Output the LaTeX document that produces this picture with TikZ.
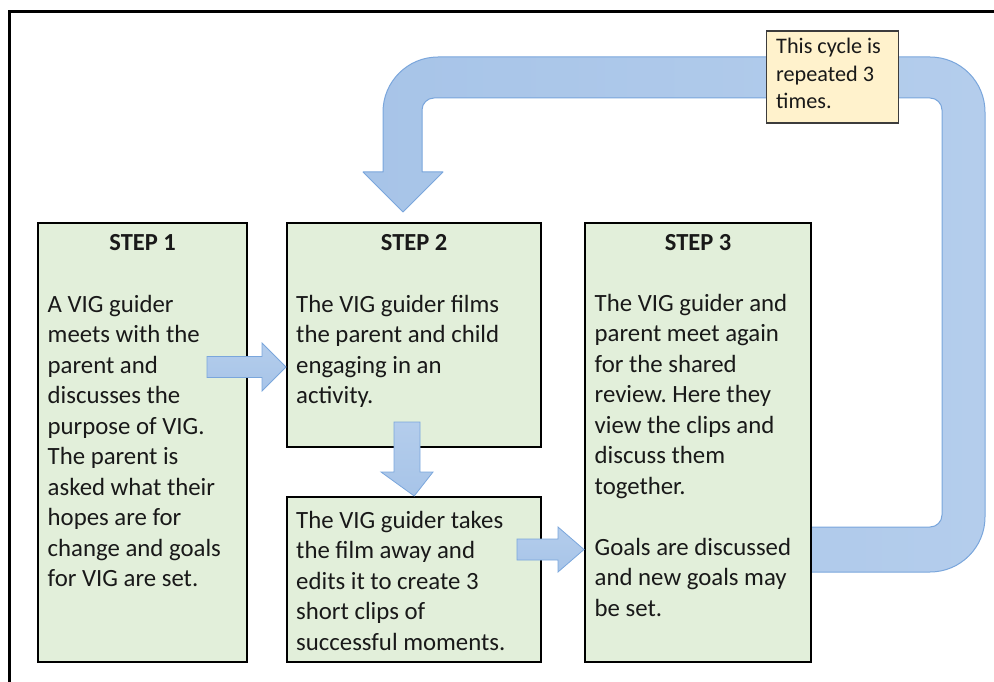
\documentclass[tikz,border=0pt]{standalone}
\usepackage{fontspec}
\setmainfont{Carlito}
\usetikzlibrary{calc}
\frenchspacing
\definecolor{boxgreen}{RGB}{226,239,218}
\definecolor{notebg}{RGB}{255,242,204}
\definecolor{noteedge}{RGB}{60,60,60}
\definecolor{arrowfill}{RGB}{167,196,232}
\definecolor{arrowlight}{RGB}{180,205,236}
\definecolor{arrowedge}{RGB}{122,166,220}
\definecolor{ink}{RGB}{25,25,25}
\begin{document}
\begin{tikzpicture}[x=1pt,y=-1pt,
  stepbox/.style={draw=black,line width=2.4pt,fill=boxgreen,anchor=north west,inner sep=0pt},
  notebox/.style={draw=noteedge,line width=1.3pt,fill=notebg,anchor=north west,inner sep=0pt},
  steptitle/.style={font=\fontsize{24.5}{30.5}\selectfont\bfseries,text=ink,anchor=base,inner sep=0pt},
  % multi-line texts are placed by the baseline of their last line
  steptext/.style={font=\fontsize{24.8}{30.5}\selectfont,text=ink,anchor=base west,align=left,inner sep=0pt},
  notetext/.style={font=\fontsize{22.2}{27.5}\selectfont,text=ink,anchor=base west,align=left,inner sep=0pt},
  blockarrow/.style={draw=arrowedge,line width=1pt,left color=arrowfill,right color=arrowlight},
  smallarrow/.style={draw=arrowedge,line width=0.8pt,top color=arrowlight,bottom color=arrowfill}]
\useasboundingbox (0,0) rectangle (994,682);

% page frame (open at right and bottom)
\draw[line width=2.5pt,line cap=rect] (9.5,690) -- (9.5,11.3) -- (1000,11.3);

% return arrow from step 3 back to step 2
\draw[blockarrow,line join=round]
  (810,572) [rounded corners=55pt] -- (985,572) -- (985,57) -- (383,57) [sharp corners]
  -- (383,172) -- (363,172) -- (403,212) -- (443,172) -- (422,172)
  [rounded corners=12pt] -- (422,98) -- (942,98) -- (942,527) [sharp corners]
  -- (810,527) -- cycle;

% step boxes
\node[stepbox,minimum width=209pt,minimum height=439pt] (s1) at (37,222) {};
\node[stepbox,minimum width=254pt,minimum height=224pt] (s2) at (286,222) {};
\node[stepbox,minimum width=254pt,minimum height=165pt] (s2b) at (286,496) {};
\node[stepbox,minimum width=226pt,minimum height=439pt] (s3) at (584,222) {};

% titles
\node[steptitle] (t1) at ($(s1.north)+(0,28)$) {STEP 1};
\node[steptitle] (t2) at ($(s2.north)+(0,28)$) {STEP 2};
\node[steptitle] (t3) at ($(s3.north)+(0,28)$) {STEP 3};

% body texts
\node[steptext] (b1) at (47.5,586.5) {A VIG guider\\meets with the\\parent and\\discusses the\\purpose of VIG.\\The parent is\\asked what their\\hopes are for\\change and goals\\for VIG are set.};
\node[steptext] (b2) at (296,403.5) {The VIG guider films\\the parent and child\\engaging in an\\activity.};
\node[steptext] (b2b) at (296,650) {The VIG guider takes\\the film away and\\edits it to create 3\\short clips of\\successful moments.};
\node[steptext] (b3) at (594.5,616) {The VIG guider and\\parent meet again\\for the shared\\review. Here they\\view the clips and\\discuss them\\together.\\[30.5pt]Goals are discussed\\and new goals may\\be set.};

% small block arrows between the steps
\draw[smallarrow] (207,356.5) -- (262,356.5) -- (262,343) -- (s2.west |- 0,367)
  -- (262,391) -- (262,377.5) -- (207,377.5) -- cycle;
\draw[smallarrow] (394,422) -- (420,422) -- (420,472) -- (433,472) -- (s2b.north)
  -- (381,472) -- (394,472) -- cycle;
\draw[smallarrow] (517,539) -- (558,539) -- (558,527) -- (s3.west |- 0,549.5)
  -- (558,572) -- (558,560) -- (517,560) -- cycle;

% note
\node[notebox,minimum width=132pt,minimum height=92pt] (note) at (765.5,30.5) {};
\node[notetext] (nt) at (776,109) {This cycle is\\repeated 3\\times.};
\end{tikzpicture}
\end{document}
